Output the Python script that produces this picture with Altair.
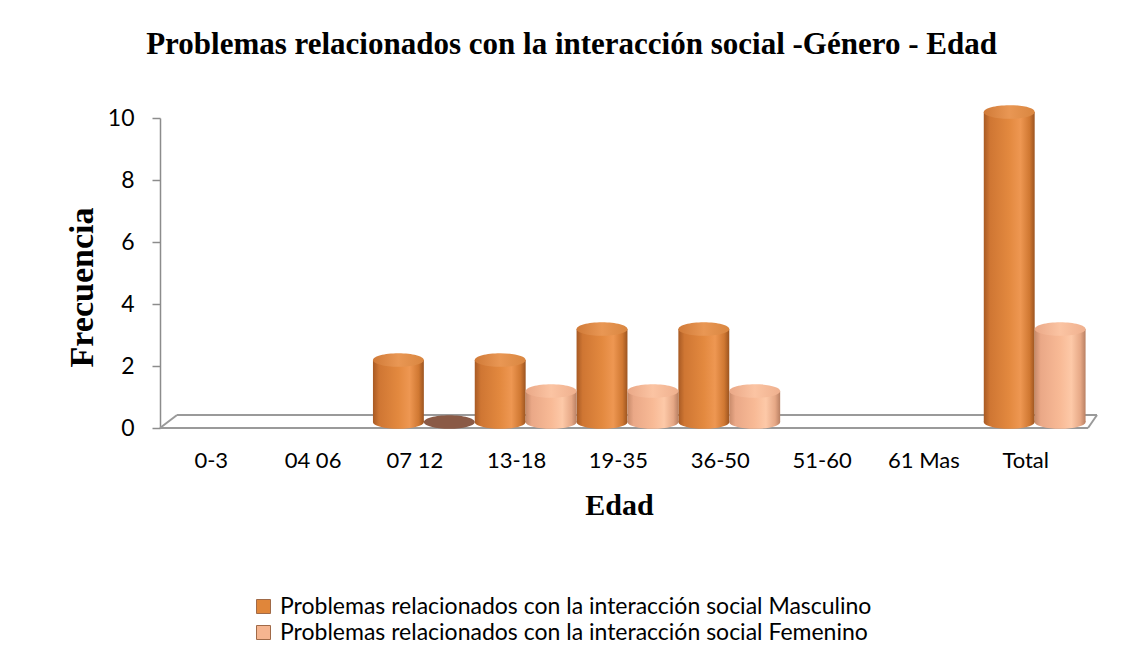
import altair as alt
import pandas as pd

categories = ["0-3", "04 06", "07 12", "13-18", "19-35", "36-50", "51-60", "61 Mas", "Total"]
masculino = [None, None, 2, 2, 3, 3, None, None, 10]
femenino = [None, None, 0, 1, 1, 1, None, None, 3]
series_names = [
    "Problemas relacionados con la interacción social Masculino",
    "Problemas relacionados con la interacción social Femenino",
]
y_ticks = [0, 2, 4, 6, 8, 10]

rows = []
for c, m, f in zip(categories, masculino, femenino):
    rows.append({"Edad": c, "serie": series_names[0], "s": "M", "v": m})
    rows.append({"Edad": c, "serie": series_names[1], "s": "F", "v": f})
df = pd.DataFrame(rows)
df["v"] = df["v"].astype(float)

W, H = 937, 310
PO = 0.102
step = W / (9 + 2 * PO)
bar_w = step / 2
cap_size = bar_w ** 2
ellipse = "M-1,0 A1,0.27 0 1,0 1,0 A1,0.27 0 1,0 -1,0 Z"
DEPTH = -6

x_enc = alt.X(
    "Edad:N",
    sort=categories,
    scale=alt.Scale(domain=categories, paddingInner=0, paddingOuter=PO, align=0.45),
    axis=alt.Axis(
        title="Edad", labelAngle=0, domain=False, ticks=False, labelPadding=22,
        labelOffset=-9, labelFont="Lato", labelFontSize=22, labelColor="#000",
        titleFont="Liberation Serif", titleFontWeight="bold", titleFontSize=30,
        titleColor="#000", titleX=459, titleY=77, titleBaseline="middle", titleAlign="center",
    ),
)
xo = alt.XOffset("s:N", scale=alt.Scale(domain=["M", "F"]))
y_scale = alt.Scale(domain=[0, 10], nice=False)
y_enc = alt.Y(
    "v:Q",
    scale=y_scale,
    axis=alt.Axis(
        title="Frecuencia", values=y_ticks, grid=False, domainColor="#8c8c8c",
        domainWidth=1.5, tickColor="#8c8c8c", tickWidth=1.5, tickSize=8, labelPadding=18,
        labelFont="Lato", labelFontSize=23, labelColor="#000", titleFont="Liberation Serif",
        titleFontWeight="bold", titleFontSize=34, titleColor="#000",
        titleX=-78, titleY=169, titleAngle=-90, titleBaseline="middle", titleAlign="center",
    ),
)

def grad(stops):
    return alt.Gradient(
        gradient="linear", x1=0, x2=1, y1=0, y2=0,
        stops=[alt.GradientStop(offset=o, color=c) for o, c in stops],
    )

m_grad = grad([(0, "#a85a24"), (0.12, "#cf7633"), (0.5, "#e3893f"), (0.72, "#ee9752"), (0.9, "#d07832"), (1, "#9c5420")])
f_grad = grad([(0, "#c78a6a"), (0.12, "#eaa887"), (0.5, "#f8ba96"), (0.72, "#fdc9a8"), (0.9, "#e6a886"), (1, "#b98063")])
m_cap = grad([(0, "#d07a38"), (0.5, "#e99754"), (1, "#d98640")])
f_cap = grad([(0, "#eaa887"), (0.5, "#fbc4a3"), (1, "#efb08e")])

one = pd.DataFrame({"a": [0]})
def seg(x1, y1, x2, y2):
    return alt.Chart(one).mark_rule(color="#9a9a9a", strokeWidth=2).encode(
        x=alt.value(x1), y=alt.value(y1), x2=alt.value(x2), y2=alt.value(y2)
    )

floor = [
    seg(0, H, 928, H),
    seg(17, H - 13, W, H - 13),
    seg(0, H, 17, H - 13),
    seg(928, H, W, H - 13),
]

base = alt.Chart(df).transform_filter("isValid(datum.v)")

layers = list(floor)
for key, g, cap in [("M", m_grad, m_cap), ("F", f_grad, f_cap)]:
    sub = base.transform_filter(f"datum.s == '{key}' && datum.v > 0")
    layers.append(
        sub.mark_point(shape=ellipse, size=cap_size, filled=True, fill=g, opacity=1,
                       strokeWidth=0, yOffset=DEPTH).encode(
            x=x_enc, xOffset=xo, y=alt.datum(0, scale=y_scale)
        )
    )
    layers.append(
        sub.mark_bar(fill=g, width=bar_w, yOffset=DEPTH, y2Offset=DEPTH).encode(
            x=x_enc, xOffset=xo, y=y_enc, y2=alt.datum(0)
        )
    )
    layers.append(
        sub.mark_point(shape=ellipse, size=cap_size, filled=True, fill=cap, opacity=1,
                       strokeWidth=0, yOffset=DEPTH).encode(
            x=x_enc, xOffset=xo, y="v:Q"
        )
    )

zero = base.transform_filter("datum.v == 0").mark_point(
    shape=ellipse, size=cap_size, filled=True, fill="#8a5a46", opacity=1, strokeWidth=0,
    yOffset=DEPTH,
).encode(x=x_enc, xOffset=xo, y="v:Q")
layers.append(zero)

legend_layer = base.mark_square(opacity=0, size=1).encode(
    x=x_enc, xOffset=xo, y=alt.datum(0),
    color=alt.Color(
        "serie:N",
        scale=alt.Scale(domain=series_names, range=["#e0863a", "#f5b590"]),
        legend=alt.Legend(
            title=None, orient="none", legendX=92, legendY=477, direction="vertical",
            symbolType="square", symbolSize=196, symbolOpacity=1,
            symbolStrokeColor="#a06a48", symbolStrokeWidth=1,
            labelFont="Lato", labelFontSize=23, labelColor="#000", labelLimit=900,
            rowPadding=2, labelOffset=5,
        ),
    ),
)
layers.append(legend_layer)

chart = alt.layer(*layers).properties(
    width=W, height=H,
    title=alt.TitleParams(
        "Problemas relacionados con la interacción social -Género - Edad",
        font="Liberation Serif", fontSize=31, fontWeight="bold", color="#000",
        anchor="middle", offset=44, dx=-57,
    ),
    autosize=alt.AutoSizeParams(type="none"),
    padding={"left": 152, "top": 110, "right": 1128 - 152 - W, "bottom": 224},
).configure_view(stroke=None)

chart.save("out.html", embed_options={"renderer": "svg", "actions": False})
